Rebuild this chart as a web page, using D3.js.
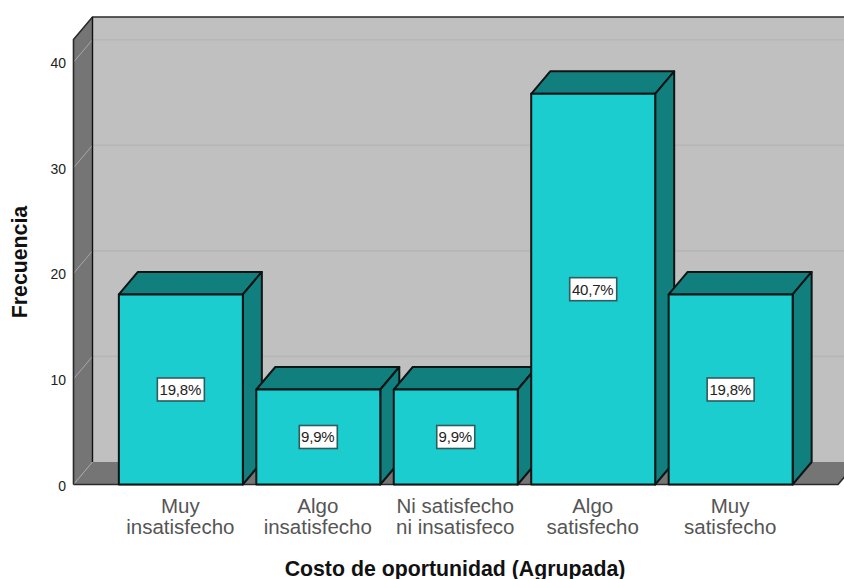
<!DOCTYPE html>
<html>
<head>
<meta charset="utf-8">
<style>
  html, body { margin: 0; padding: 0; background: #fff; overflow: hidden; }
  svg { display: block; font-family: "Liberation Sans", Arial, sans-serif; }
</style>
<script src="https://cdn.jsdelivr.net/npm/d3@7"></script>
</head>
<body>
<svg id="chart" width="844" height="579"></svg>
<script>
const categories = ["Muy insatisfecho", "Algo insatisfecho", "Ni satisfecho ni insatisfeco", "Algo satisfecho", "Muy satisfecho"];
const categoryLines = [["Muy", "insatisfecho"], ["Algo", "insatisfecho"], ["Ni satisfecho", "ni insatisfeco"], ["Algo", "satisfecho"], ["Muy", "satisfecho"]];
const frequencies = [18, 9, 9, 37, 18];
const percentLabels = ["19,8%", "9,9%", "9,9%", "40,7%", "19,8%"];
const yTicks = [0, 10, 20, 30, 40];
const yMax = 42.15;

const colors = {
  back: "#c0c0c0", wall: "#757575", grid: "#b6b6b6", wallGrid: "#a8a8a8",
  face: "#1bcdcf", shade: "#127f7f", stroke: "#0c1414", ink: "#222"
};

const depthX = 19, depthY = 22.5;
const plotLeft = 73.5, plotRight = 838, plotBottom = 484.5, plotTop = 39.5;

const svg = d3.select("#chart");
const x = d3.scaleBand().domain(categories).range([plotLeft, plotRight]).paddingInner(0.098).paddingOuter(0.33);
const y = d3.scaleLinear().domain([0, yMax]).range([plotBottom, plotTop]);
const poly = pts => d3.line()(pts) + "Z";

// Back wall, side wall and floor of the box
const backRight = plotRight + depthX;
svg.append("path").attr("fill", colors.back)
  .attr("d", poly([[plotLeft + depthX, plotTop - depthY], [backRight, plotTop - depthY], [backRight, plotBottom - depthY], [plotLeft + depthX, plotBottom - depthY]]));
svg.append("path").attr("fill", colors.wall)
  .attr("d", poly([[plotLeft, plotTop], [plotLeft + depthX, plotTop - depthY], [plotLeft + depthX, plotBottom - depthY], [plotLeft, plotBottom]]));
svg.append("path").attr("fill", colors.wall)
  .attr("d", poly([[plotLeft, plotBottom], [plotRight, plotBottom], [backRight, plotBottom - depthY], [plotLeft + depthX, plotBottom - depthY]]));

// Gridlines wrap from the side wall onto the back wall
svg.append("g").selectAll("line").data(yTicks.filter(d => d > 0)).join("line")
  .attr("x1", plotLeft + depthX).attr("x2", backRight)
  .attr("y1", d => y(d) - depthY).attr("y2", d => y(d) - depthY)
  .attr("stroke", colors.grid).attr("stroke-width", 1.6);
svg.append("g").selectAll("line").data(yTicks).join("line")
  .attr("x1", plotLeft).attr("x2", plotLeft + depthX)
  .attr("y1", d => y(d)).attr("y2", d => y(d) - depthY)
  .attr("stroke", colors.wallGrid).attr("stroke-width", 1);

// Box edges
svg.append("path").attr("fill", "none").attr("stroke", "#2a2a2a").attr("stroke-width", 1.6)
  .attr("d", d3.line()([[plotLeft, plotBottom], [plotLeft, plotTop], [plotLeft + depthX, plotTop - depthY], [backRight, plotTop - depthY]]));
svg.append("path").attr("fill", "none").attr("stroke", "#111").attr("stroke-width", 1.4)
  .attr("d", d3.line()([[plotLeft + depthX, plotTop - depthY], [plotLeft + depthX, plotBottom - depthY]]));
svg.append("path").attr("fill", "none").attr("stroke", "#2a2a2a").attr("stroke-width", 1.6)
  .attr("d", d3.line()([[plotLeft, plotBottom], [plotRight, plotBottom], [backRight, plotBottom - depthY]]));

// Extruded bars
const bars = svg.append("g").selectAll("g").data(categories).join("g");
bars.each(function (c, i) {
  const g = d3.select(this);
  const x0 = x(c), x1 = x0 + x.bandwidth(), yt = y(frequencies[i]), yb = y(0);
  const edge = sel => sel.attr("stroke", colors.stroke).attr("stroke-width", 2).attr("stroke-linejoin", "round");
  g.append("path").attr("fill", colors.shade).call(edge)
    .attr("d", poly([[x0, yt], [x0 + depthX, yt - depthY], [x1 + depthX, yt - depthY], [x1, yt]]));
  g.append("path").attr("fill", colors.shade).call(edge)
    .attr("d", poly([[x1, yt], [x1 + depthX, yt - depthY], [x1 + depthX, yb - depthY], [x1, yb]]));
  g.append("path").attr("fill", colors.face).call(edge)
    .attr("d", poly([[x0, yt], [x1, yt], [x1, yb], [x0, yb]]));

  // Percentage tag at mid-height of the face
  const cx = (x0 + x1) / 2, cy = y(frequencies[i] / 2);
  const label = percentLabels[i];
  const boxW = label.length > 4 ? 47 : 38;
  g.append("rect").attr("x", cx - boxW / 2).attr("y", cy - 11.5).attr("width", boxW).attr("height", 23)
    .attr("fill", "#fff").attr("stroke", "#2f5c5c").attr("stroke-width", 1.6);
  g.append("text").attr("x", cx - 0.5).attr("y", cy + 5.5).attr("text-anchor", "middle")
    .attr("font-size", 15).attr("letter-spacing", -0.2).attr("fill", colors.ink).text(label);
});

// Value axis labels
svg.append("g").selectAll("text").data(yTicks).join("text")
  .attr("x", 66).attr("y", d => y(d) + 6).attr("text-anchor", "end")
  .attr("font-size", 14).attr("fill", colors.ink).text(d => d);

// Category labels on two lines
svg.append("g").selectAll("text").data(categories).join("text")
  .attr("text-anchor", "middle").attr("font-size", 20.5).attr("fill", "#555")
  .each(function (c, i) {
    const cx = x(c) + x.bandwidth() / 2;
    d3.select(this).selectAll("tspan").data(categoryLines[i]).join("tspan")
      .attr("x", cx - 0.5).attr("y", (d, k) => 512.5 + k * 21.5).text(d => d);
  });

// Axis titles
svg.append("text").attr("x", 455).attr("y", 575.5).attr("text-anchor", "middle")
  .attr("font-size", 21.3).attr("font-weight", "bold").attr("fill", "#111").text("Costo de oportunidad (Agrupada)");
svg.append("text").attr("transform", "translate(27,262) rotate(-90)").attr("text-anchor", "middle")
  .attr("font-size", 21.3).attr("font-weight", "bold").attr("fill", "#111").text("Frecuencia");
</script>
</body>
</html>
